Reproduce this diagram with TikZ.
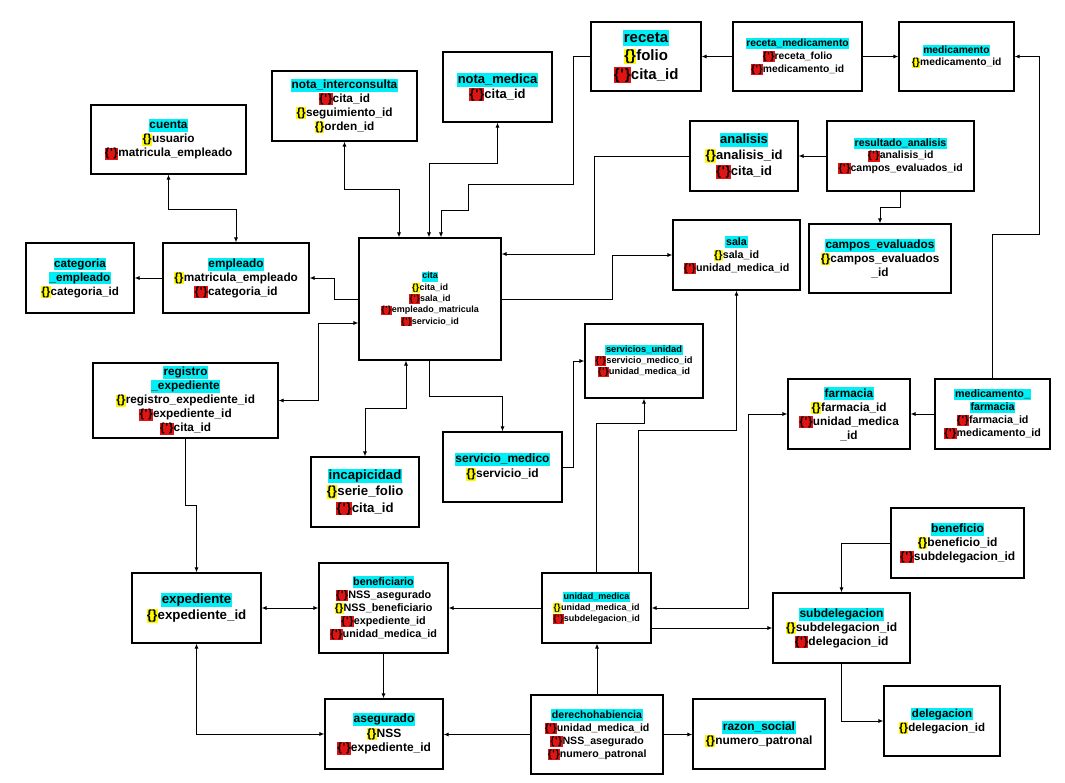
\documentclass[tikz,border=0pt]{standalone}
\usepackage{fontspec}
\setmainfont{Liberation Sans}
\usetikzlibrary{arrows.meta}
\definecolor{tcyan}{RGB}{0,238,245}
\definecolor{pkyel}{RGB}{255,250,0}
\definecolor{fkred}{RGB}{225,20,20}
\newcommand{\hstrut}{\rule[-0.22em]{0pt}{0.98em}}
\newcommand{\tn}[1]{{\setlength{\fboxsep}{0.6pt}\colorbox{tcyan}{\hstrut#1}}}
\newcommand{\pk}{{\setlength{\fboxsep}{0.3pt}\colorbox{pkyel}{\hstrut\{\}}}}
\newcommand{\fk}{{\setlength{\fboxsep}{0.3pt}\colorbox{fkred}{\hstrut\{\kern0.05em\textquotesingle\kern0.05em\}}}}
\newcommand{\fsz}[2]{\fontsize{#1}{#2}\selectfont\bfseries}
\tikzset{
  ent/.style={draw, line width=1.1pt, align=center, inner sep=2pt},
  arr/.style={line width=0.9pt, -{Latex[length=5pt,width=4pt]}},
  both/.style={line width=0.9pt, {Latex[length=5pt,width=4pt]}-{Latex[length=5pt,width=4pt]}},
}
\begin{document}
\begin{tikzpicture}[x=1pt,y=-1pt]
\fill[white] (0,0) rectangle (1065,783);
\useasboundingbox (0,0) rectangle (1065,783);

% entities
\node[ent, minimum width=155, minimum height=69, font=\fsz{11.8}{14}] (cuenta) at (168.5,139.5)
  {\tn{cuenta}\\ \pk usuario\\ \fk matricula\_empleado};
\node[ent, minimum width=145, minimum height=70, font=\fsz{11.8}{14}] (notaint) at (344.5,106)
  {\tn{nota\_interconsulta}\\ \fk cita\_id\\ \pk seguimiento\_id\\ \pk orden\_id};
\node[ent, minimum width=109, minimum height=70, font=\fsz{13}{15}] (notamed) at (497.5,87)
  {\tn{nota\_medica}\\ \fk cita\_id};
\node[ent, minimum width=110, minimum height=69, font=\fsz{15}{18.5}] (receta) at (646,56.5)
  {\tn{receta}\\ \pk folio\\ \fk cita\_id};
\node[ent, minimum width=129, minimum height=69, font=\fsz{10.3}{13}] (recmed) at (797.5,56.5)
  {\tn{receta\_medicamento}\\ \fk receta\_folio\\ \fk medicamento\_id};
\node[ent, minimum width=115, minimum height=69, font=\fsz{10.3}{12.5}] (medicamento) at (956.5,56.5)
  {\tn{medicamento}\\ \pk medicamento\_id};
\node[ent, minimum width=108, minimum height=70, font=\fsz{13}{16}] (analisis) at (744,156)
  {\tn{analisis}\\ \pk analisis\_id\\ \fk cita\_id};
\node[ent, minimum width=147, minimum height=70, font=\fsz{10.5}{12.5}] (resan) at (900.5,156)
  {\tn{resultado\_analisis}\\ \fk analisis\_id\\ \fk campos\_evaluados\_id};
\node[ent, minimum width=142, minimum height=69, font=\fsz{11.8}{14}] (campos) at (880,258.5)
  {\tn{campos\_evaluados}\\ \pk campos\_evaluados\\ \_id};
\node[ent, minimum width=127, minimum height=70, font=\fsz{10.7}{13}] (sala) at (736.5,255)
  {\tn{sala}\\ \pk sala\_id\\ \fk unidad\_medica\_id};
\node[ent, minimum width=108, minimum height=70, font=\fsz{11.6}{14}] (categoria) at (80,278)
  {\tn{categoria}\\ \tn{\_empleado}\\ \pk categoria\_id};
\node[ent, minimum width=146, minimum height=70, font=\fsz{11.8}{14}] (empleado) at (236,278)
  {\tn{empleado}\\ \pk matricula\_empleado\\ \fk categoria\_id};
\node[ent, minimum width=142, minimum height=122, font=\fsz{9}{11.3}] (cita) at (430,299)
  {\tn{cita}\\ \pk cita\_id\\ \fk sala\_id\\ \fk empleado\_matricula\\ \fk servicio\_id};
\node[ent, minimum width=185, minimum height=75, font=\fsz{11.8}{14}] (registro) at (185.5,400.5)
  {\tn{registro}\\ \tn{\_expediente}\\ \pk registro\_expediente\_id\\ \fk expediente\_id\\ \fk cita\_id};
\node[ent, minimum width=118, minimum height=74, font=\fsz{9.3}{11}] (servunid) at (644,361)
  {\tn{servicios\_unidad}\\ \fk servicio\_medico\_id\\ \fk unidad\_medica\_id};
\node[ent, minimum width=119, minimum height=70, font=\fsz{12}{15}] (servmed) at (502.5,467)
  {\tn{servicio\_medico}\\ \pk servicio\_id};
\node[ent, minimum width=108, minimum height=70, font=\fsz{13.2}{16.5}] (incap) at (365,492)
  {\tn{incapicidad}\\ \pk serie\_folio\\ \fk cita\_id};
\node[ent, minimum width=122, minimum height=70, font=\fsz{11.8}{14}] (farmacia) at (849,414)
  {\tn{farmacia}\\ \pk farmacia\_id\\ \fk unidad\_medica\\ \_id};
\node[ent, minimum width=115, minimum height=70, font=\fsz{10.7}{13}] (medfarm) at (992.5,414)
  {\tn{medicamento\_}\\ \tn{farmacia}\\ \fk farmacia\_id\\ \fk medicamento\_id};
\node[ent, minimum width=129, minimum height=70, font=\fsz{13.3}{16}] (expediente) at (196.5,608)
  {\tn{expediente}\\ \pk expediente\_id};
\node[ent, minimum width=129, minimum height=90, font=\fsz{10.8}{13}] (beneficiario) at (383.5,608)
  {\tn{beneficiario}\\ \fk NSS\_asegurado\\ \pk NSS\_beneficiario\\ \fk expediente\_id\\ \fk unidad\_medica\_id};
\node[ent, minimum width=109, minimum height=70, font=\fsz{9}{11}] (unidad) at (596.5,608)
  {\tn{unidad\_medica}\\ \pk unidad\_medica\_id\\ \fk subdelegacion\_id};
\node[ent, minimum width=118, minimum height=70, font=\fsz{12}{14.5}] (asegurado) at (384,734)
  {\tn{asegurado}\\ \pk NSS\\ \fk expediente\_id};
\node[ent, minimum width=132, minimum height=79, font=\fsz{10.6}{13}] (derecho) at (597,734.5)
  {\tn{derechohabiencia}\\ \fk unidad\_medica\_id\\ \fk NSS\_asegurado\\ \fk numero\_patronal};
\node[ent, minimum width=132, minimum height=70, font=\fsz{11.9}{14}] (razon) at (759,734)
  {\tn{razon\_social}\\ \pk numero\_patronal};
\node[ent, minimum width=137, minimum height=70, font=\fsz{12}{14}] (subdeleg) at (841.5,628)
  {\tn{subdelegacion}\\ \pk subdelegacion\_id\\ \fk delegacion\_id};
\node[ent, minimum width=133, minimum height=70, font=\fsz{12}{14}] (beneficio) at (957.5,543)
  {\tn{beneficio}\\ \pk beneficio\_id\\ \fk subdelegacion\_id};
\node[ent, minimum width=116, minimum height=70, font=\fsz{11.5}{14}] (delegacion) at (942,721)
  {\tn{delegacion}\\ \pk delegacion\_id};

% connectors
\draw[both] (cuenta.south) -- ++(0,35) -| (empleado.north);
\draw[arr] (empleado.west) -- (categoria.east);
\draw[arr] (cita.west) -- ++(-24,0) |- (empleado.east);
\draw[both] (registro.east) -- ++(40,0) |- ([yshift=-24pt]cita.west);
\draw[both] (notaint.south) -- ++(0,48) -| ([xshift=-31pt]cita.north);
\draw[both] (notamed.south) -- ++(0,41) -| ([xshift=-1pt]cita.north);
\draw[arr] (receta.west) -- ++(-17,0) -- ++(0,127.5) -- ++(-105,0) -- ++(0,26) -| ([xshift=11pt]cita.north);
\draw[arr] (recmed.west) -- (receta.east);
\draw[arr] (recmed.east) -- (medicamento.west);
\draw[arr] (medfarm.north) -- ++(0,-144) -- ++(46.5,0) |- (medicamento.east);
\draw[arr] (resan.west) -- (analisis.east);
\draw[arr] (resan.south) -- ++(0,16) -| (campos.north);
\draw[arr] (analisis.west) -- ++(-95,0) |- ([yshift=45pt]cita.east);
\draw[arr] (cita.east) -- ++(111,0) |- (sala.west);
\draw[arr] ([xshift=41.5pt]unidad.north) -- ++(0,-142) -| (sala.south);
\draw[arr] (unidad.north) -- ++(0,-149) -| (servunid.south);
\draw[arr] (servmed.east) -- ++(11,0) |- (servunid.west);
\draw[arr] ([xshift=-1pt]cita.south) -- ++(0,36) -| (servmed.north);
\draw[both] ([xshift=-24pt]cita.south) -- ++(0,48) -| (incap.north);
\draw[arr] (registro.south) -- ++(0,67) -| (expediente.north);
\draw[both] (expediente.east |- beneficiario.west) -- (beneficiario.west);
\draw[both] (expediente.south) |- (asegurado.west);
\draw[arr] (beneficiario.south) -- (beneficiario.south |- asegurado.north);
\draw[arr] (unidad.west) -- (beneficiario.east);
\draw[arr] (derecho.west) -- (derecho.west -| asegurado.east);
\draw[arr] (derecho.north) -- (derecho.north |- unidad.south);
\draw[arr] (derecho.east) -- (derecho.east -| razon.west);
\draw[both] (unidad.east) -- ++(97,0) |- (farmacia.west);
\draw[arr] (subdeleg.west -| unidad.east) -- (subdeleg.west);
\draw[arr] (beneficio.west) -| (subdeleg.north);
\draw[arr] (subdeleg.south) |- (delegacion.west);
\draw[arr] (medfarm.west) -- (farmacia.east);
\end{tikzpicture}
\end{document}
